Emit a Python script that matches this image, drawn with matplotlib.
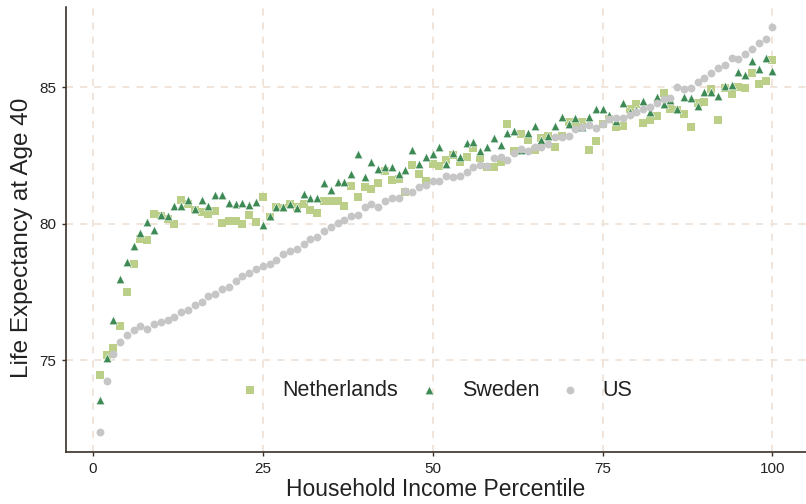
import numpy as np
import matplotlib
matplotlib.use("Agg")
import matplotlib.pyplot as plt

plt.rcParams['font.family'] = ['Liberation Sans', 'DejaVu Sans']

# percentiles 1..100
pct = np.arange(1, 101)

netherlands = [
    74.47, 75.21, 75.45, 76.27, 77.50, 78.53, 79.44, 79.41, 80.37, 80.28,
    80.18, 80.00, 80.88, 80.72, 80.51, 80.44, 80.37, 80.46, 80.02, 80.12,
    80.12, 79.99, 80.33, 80.08, 80.98, 80.25, 80.63, 80.57, 80.73, 80.63,
    80.72, 80.49, 80.39, 80.83, 80.83, 80.83, 80.66, 81.39, 80.98, 81.34,
    81.27, 81.49, 81.95, 81.61, 81.63, 81.15, 82.16, 81.82, 81.58, 82.18,
    82.12, 82.34, 82.53, 82.26, 82.46, 82.77, 82.40, 82.07, 82.07, 82.28,
    83.66, 82.65, 83.29, 83.07, 82.70, 83.15, 83.22, 82.80, 83.23, 83.74,
    83.62, 83.74, 82.70, 83.04, 83.66, 83.84, 83.54, 83.58, 84.20, 84.39,
    83.68, 83.81, 83.95, 84.78, 84.22, 84.17, 84.01, 83.54, 84.44, 84.46,
    84.93, 83.81, 84.96, 84.74, 85.02, 84.96, 85.54, 85.12, 85.23, 86.00,
]

sweden = [
    73.53, 75.09, 76.48, 77.98, 78.62, 79.17, 79.66, 80.05, 79.77, 80.33,
    80.30, 80.66, 80.65, 80.87, 80.55, 80.87, 80.67, 81.06, 81.04, 80.77,
    80.71, 80.75, 80.69, 80.80, 79.97, 80.28, 80.63, 80.62, 80.72, 80.58,
    81.10, 80.96, 80.95, 81.48, 81.24, 81.54, 81.53, 81.82, 82.56, 81.70,
    82.26, 82.01, 82.10, 82.07, 81.82, 81.98, 82.71, 82.18, 82.43, 82.55,
    82.81, 82.18, 82.60, 82.46, 82.95, 82.99, 82.68, 82.80, 83.13, 82.88,
    83.31, 83.40, 82.70, 83.31, 83.60, 83.07, 83.23, 83.59, 83.92, 83.67,
    83.89, 83.54, 83.90, 84.22, 84.22, 83.99, 83.78, 84.42, 84.09, 84.17,
    84.51, 84.09, 84.63, 84.38, 84.54, 84.22, 84.66, 84.62, 84.32, 84.84,
    84.82, 84.68, 85.06, 85.07, 85.57, 85.45, 85.96, 85.67, 86.06, 85.61,
]

us = [
    72.38, 74.23, 75.24, 75.69, 75.94, 76.12, 76.24, 76.16, 76.33, 76.39,
    76.49, 76.59, 76.77, 76.85, 77.01, 77.12, 77.37, 77.43, 77.62, 77.68,
    77.91, 78.10, 78.20, 78.35, 78.44, 78.53, 78.68, 78.89, 78.99, 79.09,
    79.26, 79.44, 79.51, 79.72, 79.90, 80.02, 80.15, 80.27, 80.33, 80.61,
    80.71, 80.63, 80.85, 80.94, 80.94, 81.21, 81.18, 81.34, 81.43, 81.58,
    81.58, 81.76, 81.71, 81.75, 81.89, 82.07, 82.16, 82.13, 82.40, 82.44,
    82.34, 82.59, 82.73, 82.68, 82.81, 82.83, 82.93, 83.19, 83.17, 83.23,
    83.47, 83.54, 83.62, 83.52, 83.66, 83.85, 83.89, 83.89, 84.00, 84.10,
    84.20, 84.29, 84.41, 84.56, 84.60, 85.00, 84.93, 84.99, 85.18, 85.33,
    85.51, 85.72, 85.82, 86.06, 86.03, 86.21, 86.40, 86.63, 86.77, 87.20,
]

x_ticks = [0, 25, 50, 75, 100]
y_ticks = [75, 80, 85]

fig = plt.figure(figsize=(8.06, 5.04), dpi=100)
ax = fig.add_axes([0.082, 0.103, 0.918, 0.883])

ax.scatter(pct, netherlands, marker='s', s=30, color='#bccf88', linewidths=0,
           label='Netherlands', zorder=3)
ax.scatter(pct, sweden, marker='^', s=38, color='#3d8a55', edgecolors='white',
           linewidths=0.4, label='Sweden', zorder=3)
ax.scatter(pct, us, marker='o', s=32, color='#c6c6c6', linewidths=0,
           label='US', zorder=3)

ax.set_xlim(-3.95, 104.95)
ax.set_ylim(71.64, 87.94)
ax.set_xticks(x_ticks)
ax.set_yticks(y_ticks)
ax.grid(True, linestyle=(0, (3.9, 3.9)), color='#efe2d8', linewidth=1.3, zorder=0)

for side in ['top', 'right']:
    ax.spines[side].set_visible(False)
for side in ['left', 'bottom']:
    ax.spines[side].set_color('#3a3129')
    ax.spines[side].set_linewidth(1.2)

ax.tick_params(axis='both', length=3, width=1, color='#3a3129',
               labelsize=11, labelcolor='#222222', pad=4)

# axis titles placed in figure pixels like the reference
fig.text(436 / 806, 1 - 489 / 504, 'Household Income Percentile', fontsize=16.5,
         color='#222222', ha='center', va='center')
fig.text(22 / 806, 1 - 238 / 504, 'Life Expectancy at Age 40', fontsize=17.5,
         color='#222222', ha='center', va='center', rotation=90)

ax.legend(loc='center', bbox_to_anchor=(0.5, 0.139), ncol=3, frameon=False,
          fontsize=15.5, markerscale=1.0, handlelength=1.0, handletextpad=1.0,
          columnspacing=0.95, labelcolor='#222222')

fig.savefig('out.png', dpi=100)
